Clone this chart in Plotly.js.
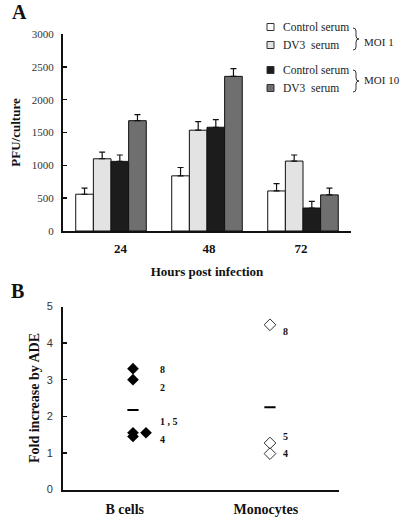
<!DOCTYPE html>
<html><head><meta charset="utf-8">
<script src="https://cdn.plot.ly/plotly-3.0.1.min.js"></script>
<style>html,body{margin:0;padding:0;background:#fff}#chart{width:400px;height:520px}</style>
</head><body><div id="chart"></div>
<script>
// ---- Panel A data ----
const hours = ['24', '48', '72'];
const seriesNames = ['Control serum', 'DV3\u00a0 serum', 'Control serum', 'DV3\u00a0 serum'];
const moiGroups = ['MOI 1', 'MOI 10'];
const ctrlMoi1 = [560, 840, 610];
const dv3Moi1 = [1100, 1535, 1065];
const ctrlMoi10 = [1060, 1580, 350];
const dv3Moi10 = [1680, 2355, 550];
const errCtrlMoi1 = [92, 127, 112];
const errDv3Moi1 = [100, 132, 92];
const errCtrlMoi10 = [97, 117, 102];
const errDv3Moi10 = [92, 117, 102];
const yTicksA = [0, 500, 1000, 1500, 2000, 2500, 3000];

// ---- Panel B data ----
const cellTypes = ['B cells', 'Monocytes'];
const bCellFold = [3.3, 3.0, 1.55, 1.55, 1.45];
const bCellDonor = ['8', '2', '1', '5', '4'];
const monoFold = [4.5, 1.27, 0.98];
const monoDonor = ['8', '5', '4'];

// ---- helpers ----
const W = 400, H = 520;
const px = p => p / W;
const py = p => 1 - p / H;
const SERIF = 'Liberation Serif, Times New Roman, serif';
const SANS = 'Liberation Sans, Arial, sans-serif';

const barValues = [ctrlMoi1, dv3Moi1, ctrlMoi10, dv3Moi10];
const barErrors = [errCtrlMoi1, errDv3Moi1, errCtrlMoi10, errDv3Moi10];
const barColors = ['#ffffff', '#e3e3e3', '#1c1c1c', '#6f6f6f'];
const xIdx = hours.map((h, i) => i);

const traces = barValues.map((vals, s) => ({
  type: 'bar', x: xIdx, y: vals, name: seriesNames[s], xaxis: 'x', yaxis: 'y',
  marker: { color: barColors[s], line: { color: '#111', width: 1 } },
  error_y: { type: 'data', array: barErrors[s], symmetric: false, arrayminus: barErrors[s].map(() => 0),
             color: '#111', thickness: 1.2, width: 3 },
  showlegend: false, hoverinfo: 'skip'
}));

// Panel B points: duplicates of same value get a small horizontal offset
function spread(vals, base) {
  const seen = {};
  return vals.map(v => { const k = v.toFixed(3); seen[k] = (seen[k] || 0); const o = seen[k]; seen[k]++; return base + o * 0.095; });
}
const bX = spread(bCellFold, 1);
const mX = spread(monoFold, 2);
traces.push({ type: 'scatter', mode: 'markers', x: bX, y: bCellFold, xaxis: 'x2', yaxis: 'y2',
  marker: { symbol: 'diamond', size: 9, color: '#000' }, showlegend: false, hoverinfo: 'skip' });
traces.push({ type: 'scatter', mode: 'markers', x: mX, y: monoFold, xaxis: 'x2', yaxis: 'y2',
  marker: { symbol: 'diamond-open', size: 9, color: '#333', line: { width: 1, color: '#333' } }, showlegend: false, hoverinfo: 'skip' });
const mean = a => a.reduce((s, v) => s + v, 0) / a.length;
traces.push({ type: 'scatter', mode: 'markers', x: [1, 2], y: [mean(bCellFold), mean(monoFold)], xaxis: 'x2', yaxis: 'y2',
  marker: { symbol: 'line-ew', size: 8, line: { width: 2, color: '#000' } }, showlegend: false, hoverinfo: 'skip' });

// donor labels, merging donors sharing one value
function donorLabels(vals, donors, xBase, xshift, shifts) {
  const groups = [];
  vals.forEach((v, i) => {
    const g = groups.find(g => Math.abs(g.v - v) < 1e-9);
    if (g) g.d.push(donors[i]); else groups.push({ v: v, d: [donors[i]] });
  });
  return groups.map((g, i) => ({
    xref: 'x2', yref: 'y2', x: xBase, y: g.v, text: g.d.join(' , '), showarrow: false,
    xanchor: 'left', yanchor: 'middle', xshift: xshift, yshift: shifts[i],
    font: { family: SERIF, size: 10, color: '#111', weight: 'bold' }
  }));
}
const annotations = [
  { xref: 'paper', yref: 'paper', x: px(10), y: py(12), text: '<b>A</b>', showarrow: false, yanchor: 'middle',
    font: { family: SERIF, size: 20, color: '#111' } },
  { xref: 'paper', yref: 'paper', x: px(9), y: py(291), text: '<b>B</b>', showarrow: false, yanchor: 'middle',
    font: { family: SERIF, size: 20, color: '#111' } }
].concat(donorLabels(bCellFold, bCellDonor, 1, 25, [-1, -8, 11, -3]))
 .concat(donorLabels(monoFold, monoDonor, 2, 11, [-7, 7, 0]));

// manual legend
const shapes = [];
const legendRows = [27, 45, 70, 88];
legendRows.forEach((r, i) => {
  shapes.push({ type: 'rect', xref: 'paper', yref: 'paper', x0: px(267), x1: px(274), y0: py(r - 3.5), y1: py(r + 3.5),
    fillcolor: barColors[i], line: { color: '#333', width: 1 } });
  annotations.push({ xref: 'paper', yref: 'paper', x: px(281), y: py(r), text: seriesNames[i], showarrow: false,
    xanchor: 'left', yanchor: 'middle', font: { family: SERIF, size: 11.5, color: '#222' } });
});
[[28, 50, 42], [70, 92, 80]].forEach((b, i) => {
  const [t, bt, ty] = b, m = (t + bt) / 2;
  const P = (x, y) => px(x) + ',' + py(y);
  shapes.push({ type: 'path', xref: 'paper', yref: 'paper', line: { color: '#333', width: 1 },
    path: 'M' + P(353, t) + ' Q' + P(356, t) + ' ' + P(356, t + 3) + ' L' + P(356, m - 3) + ' Q' + P(356, m) + ' ' + P(359, m) +
          ' Q' + P(356, m) + ' ' + P(356, m + 3) + ' L' + P(356, bt - 3) + ' Q' + P(356, bt) + ' ' + P(353, bt) });
  annotations.push({ xref: 'paper', yref: 'paper', x: px(362), y: py(ty), text: moiGroups[i], showarrow: false,
    xanchor: 'left', yanchor: 'middle', font: { family: SERIF, size: 11, color: '#222' } });
});

const layout = {
  width: W, height: H, margin: { l: 0, r: 0, t: 0, b: 0 },
  paper_bgcolor: '#fff', plot_bgcolor: '#fff', showlegend: false,
  barmode: 'group', bargap: 0.265, bargroupgap: 0,
  xaxis: { domain: [px(63), px(351)], range: [-0.5, 2.5], tickvals: [0.1, 1.02, 1.98], ticktext: hours,
    showline: true, linewidth: 2, linecolor: '#111', showgrid: false, zeroline: false, ticks: '', automargin: false,
    tickfont: { family: SERIF, size: 13, color: '#111', weight: 'bold' }, ticklabelstandoff: 4,
    title: { text: '<b>Hours post infection</b>', standoff: 12, font: { family: SERIF, size: 13, color: '#111' } }, anchor: 'y' },
  yaxis: { domain: [py(231), py(34)], range: [0, 3000], tickvals: yTicksA, showline: true, linewidth: 2, linecolor: '#111',
    showgrid: false, zeroline: false, ticks: 'inside', ticklen: 4, tickwidth: 1.5, tickcolor: '#111', automargin: false,
    tickfont: { family: SERIF, size: 11, color: '#333' }, ticklabelstandoff: 5,
    title: { text: '<b>PFU/culture</b>', standoff: 8, font: { family: SERIF, size: 13, color: '#111' } }, anchor: 'x' },
  xaxis2: { domain: [px(63), px(339)], range: [0.489, 2.504], tickvals: [0.94, 1.97], ticktext: cellTypes,
    showline: true, linewidth: 2, linecolor: '#111', showgrid: false, zeroline: false, ticks: '', automargin: false,
    tickfont: { family: SERIF, size: 14, color: '#111', weight: 'bold' }, ticklabelstandoff: 6, anchor: 'y2' },
  yaxis2: { domain: [py(489.5), py(306.5)], range: [0, 5], dtick: 1, showline: true, linewidth: 2, linecolor: '#111',
    showgrid: false, zeroline: false, ticks: 'inside', ticklen: 4, tickwidth: 1.5, tickcolor: '#111', automargin: false,
    tickfont: { family: SANS, size: 11, color: '#333' }, ticklabelstandoff: 6,
    title: { text: '<b>Fold increase by ADE</b>', standoff: 4, font: { family: SERIF, size: 14, color: '#111' } }, anchor: 'x2' },
  annotations: annotations, shapes: shapes
};
Plotly.newPlot('chart', traces, layout, { staticPlot: true, displayModeBar: false });
</script></body></html>
